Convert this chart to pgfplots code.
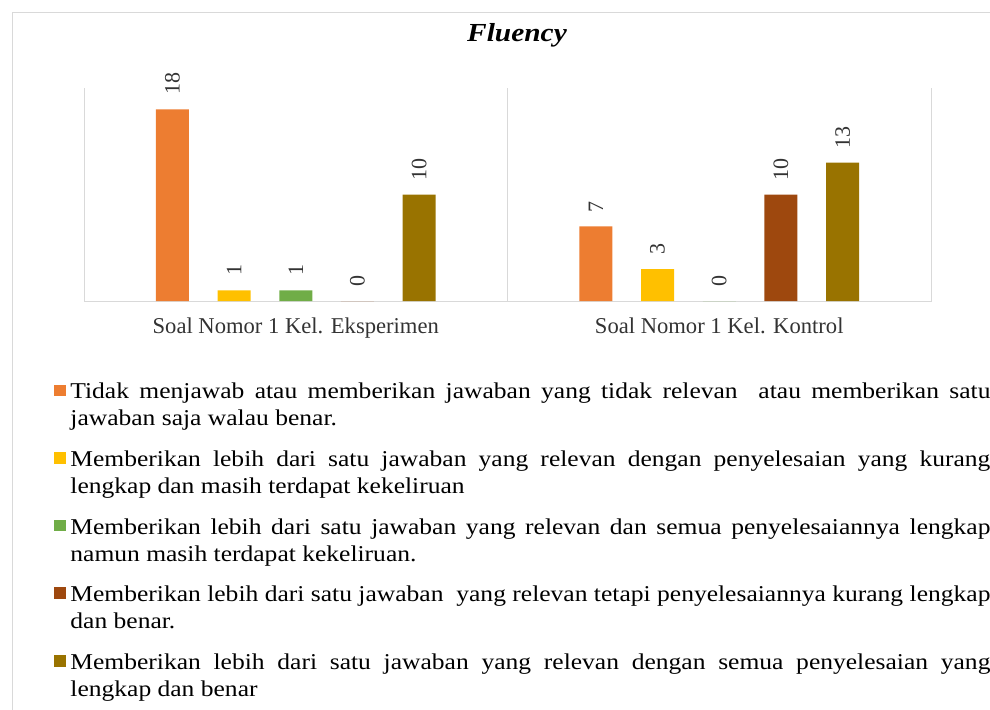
\documentclass[border=0pt]{standalone}
\usepackage{fontspec}
\setmainfont{Liberation Serif}
\newfontfamily\legfont[FakeStretch=1.13]{Liberation Serif}
\usepackage{pgfplots}
\pgfplotsset{compat=1.18}
\definecolor{c1}{HTML}{ED7D31}
\definecolor{c2}{HTML}{FFC000}
\definecolor{c3}{HTML}{70AD47}
\definecolor{c4}{HTML}{9E480E}
\definecolor{c5}{HTML}{997300}
\definecolor{gridc}{HTML}{D9D9D9}
\newcommand{\leg}[1]{\parbox[t]{460pt}{\legfont\fontsize{11.3}{13.5}\selectfont\strut #1\strut}}
\begin{document}
\begin{tikzpicture}[x=0.5pt,y=-0.5pt]
\useasboundingbox (0,0) rectangle (990,710);
\coordinate (A) at (84,301);
\begin{axis}[
  at={(A)}, anchor=south west,
  width=423.5pt, height=106.5pt, scale only axis,
  ybar=14.35pt, bar width=16.5pt,
  xmin=-0.5, xmax=1.5, ymin=0, ymax=20,
  xtick={0,1},
  xticklabels={Soal Nomor 1 Kel. Eksperimen, Soal Nomor 1 Kel. Kontrol},
  ytick=\empty, major tick length=0pt,
  axis line style={draw=none},
  xticklabel style={anchor=base, yshift=-16pt, inner sep=0pt, text=black!80, font=\fontsize{11.3}{13}\selectfont},
  clip=false,
  /pgf/number format/assume math mode=true,
  nodes near coords,
  every node near coord/.append style={rotate=90, anchor=west, inner xsep=7pt, inner ysep=0pt, text=black!80, font=\fontsize{11}{13}\selectfont},
  legend style={at={(axis description cs:-0.0354,-0.3690)}, anchor=north west, draw=none, fill=none, inner sep=0pt, row sep=22.85pt, column sep=2pt, nodes={inner sep=0pt}},
  legend cell align=left,
  legend image code/.code={\fill[#1] (0pt,-2.6pt) rectangle (6pt,3.2pt);},
]
\draw[gridc] (rel axis cs:0,1) -- (rel axis cs:0,0) -- (rel axis cs:1,0) -- (rel axis cs:1,1);
\draw[gridc] (rel axis cs:0.5,0) -- (rel axis cs:0.5,1);
\addplot[fill=c1, draw=none] coordinates {(0,18) (1,7)};
\addplot[fill=c2, draw=none] coordinates {(0,1) (1,3)};
\addplot[fill=c3, draw=none] coordinates {(0,1) (1,0)};
\addplot[fill=c4, draw=none] coordinates {(0,0) (1,10)};
\addplot[fill=c5, draw=none] coordinates {(0,10) (1,13)};
\legend{
\leg{Tidak menjawab atau memberikan jawaban yang tidak relevan \ atau memberikan satu\linebreak jawaban saja walau benar.},
\leg{Memberikan lebih dari satu jawaban yang relevan dengan penyelesaian yang kurang\linebreak lengkap dan masih terdapat kekeliruan},
\leg{Memberikan lebih dari satu jawaban yang relevan dan semua penyelesaiannya lengkap\linebreak namun masih terdapat kekeliruan.},
\leg{Memberikan lebih dari satu jawaban \ yang relevan tetapi penyelesaiannya kurang lengkap\linebreak dan benar.},
\leg{Memberikan lebih dari satu jawaban yang relevan dengan semua penyelesaian yang\linebreak lengkap dan benar}}
\end{axis}
\draw[gridc] (12,710) -- (12,12) -- (990,12);
\node[anchor=base, font=\legfont\fontsize{13}{15}\selectfont\bfseries\itshape] at (517,42) {Fluency};
\end{tikzpicture}
\end{document}
